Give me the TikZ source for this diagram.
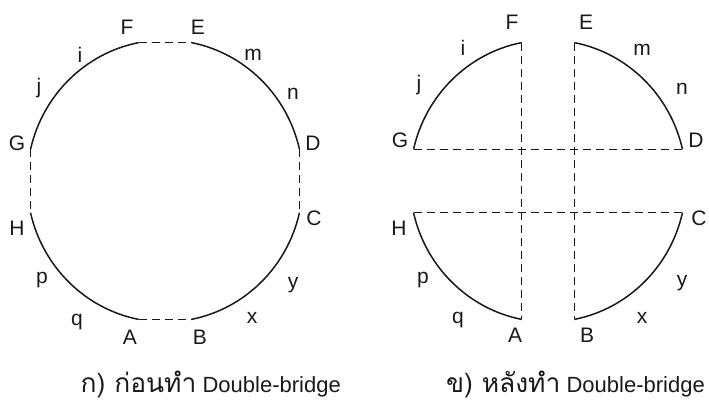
\documentclass[tikz,border=0pt]{standalone}
\usepackage{fontspec}
\setmainfont{Liberation Sans}
\newfontfamily\thaifont[Script=Thai,Scale=1.2]{Loma}
\usetikzlibrary{calc}
\definecolor{ink}{RGB}{25,25,25}
\tikzset{
  tour/.style={draw=ink,line width=1.5pt},
  cut/.style={draw=ink,line width=1.4pt,dash pattern=on 8pt off 5pt},
  city/.style={font=\fontsize{21}{21}\selectfont,text=ink,inner sep=0pt},
  caption/.style={font=\fontsize{22}{22}\selectfont,text=ink,inner sep=0pt,anchor=east},
}
\begin{document}
\begin{tikzpicture}[x=1pt,y=1pt]
  \useasboundingbox (0,0) rectangle (709,407);
  % both tours share the same four arcs
  \foreach \f/\cx in {l/165,r/548}{
    \begin{scope}[shift={(\cx,226)}]
      \foreach \p/\a in {F/101,E/79,G/167,D/13,H/193,C/-13,A/259,B/281}
        \coordinate (\f\p) at (\a:138 and 141);
      \draw[tour] (\f F) arc[start angle=101,end angle=167,x radius=138,y radius=141];
      \draw[tour] (\f E) arc[start angle=79,end angle=13,x radius=138,y radius=141];
      \draw[tour] (\f H) arc[start angle=193,end angle=259,x radius=138,y radius=141];
      \draw[tour] (\f C) arc[start angle=-13,end angle=-79,x radius=138,y radius=141];
    \end{scope}
  }
  % before: short links
  \draw[cut] (lF) -- (lE);
  \draw[cut] (lG) -- (lH);
  \draw[cut] (lD) -- (lC);
  \draw[cut] (lA) -- (lB);
  % after: crossed links
  \draw[cut] (rF) -- (rA);
  \draw[cut] (rE) -- (rB);
  \draw[cut] (rG) -- (rD);
  \draw[cut] (rH) -- (rC);
  % labels
  \foreach \t/\x/\y in {F/127/380,E/198/380,i/80/352,m/253/352,j/39/319,n/293/313,
      G/17/264,D/313/264,H/17/179,C/314/189,p/42/127,y/293/122,q/77/85,x/252/89,
      A/130/70,B/200/70}
    \node[city] (l-\t) at (\x,\y) {\t};
  \foreach \t/\x/\y in {F/512/385,E/586/385,i/463/359,m/642/357,j/419/322,n/682/318,
      G/400/267,D/696/267,H/399/179,C/699/189,p/423/127,y/682/124,q/458/87,x/642/89,
      A/515/72,B/587/72}
    \node[city] (r-\t) at (\x,\y) {\t};
  \node[caption] (cap-l) at (341,22) {{\thaifont ก) ก่อนทำ} Double-bridge};
  \node[caption] (cap-r) at (705,22) {{\thaifont ข) หลังทำ} Double-bridge};
\end{tikzpicture}
\end{document}
